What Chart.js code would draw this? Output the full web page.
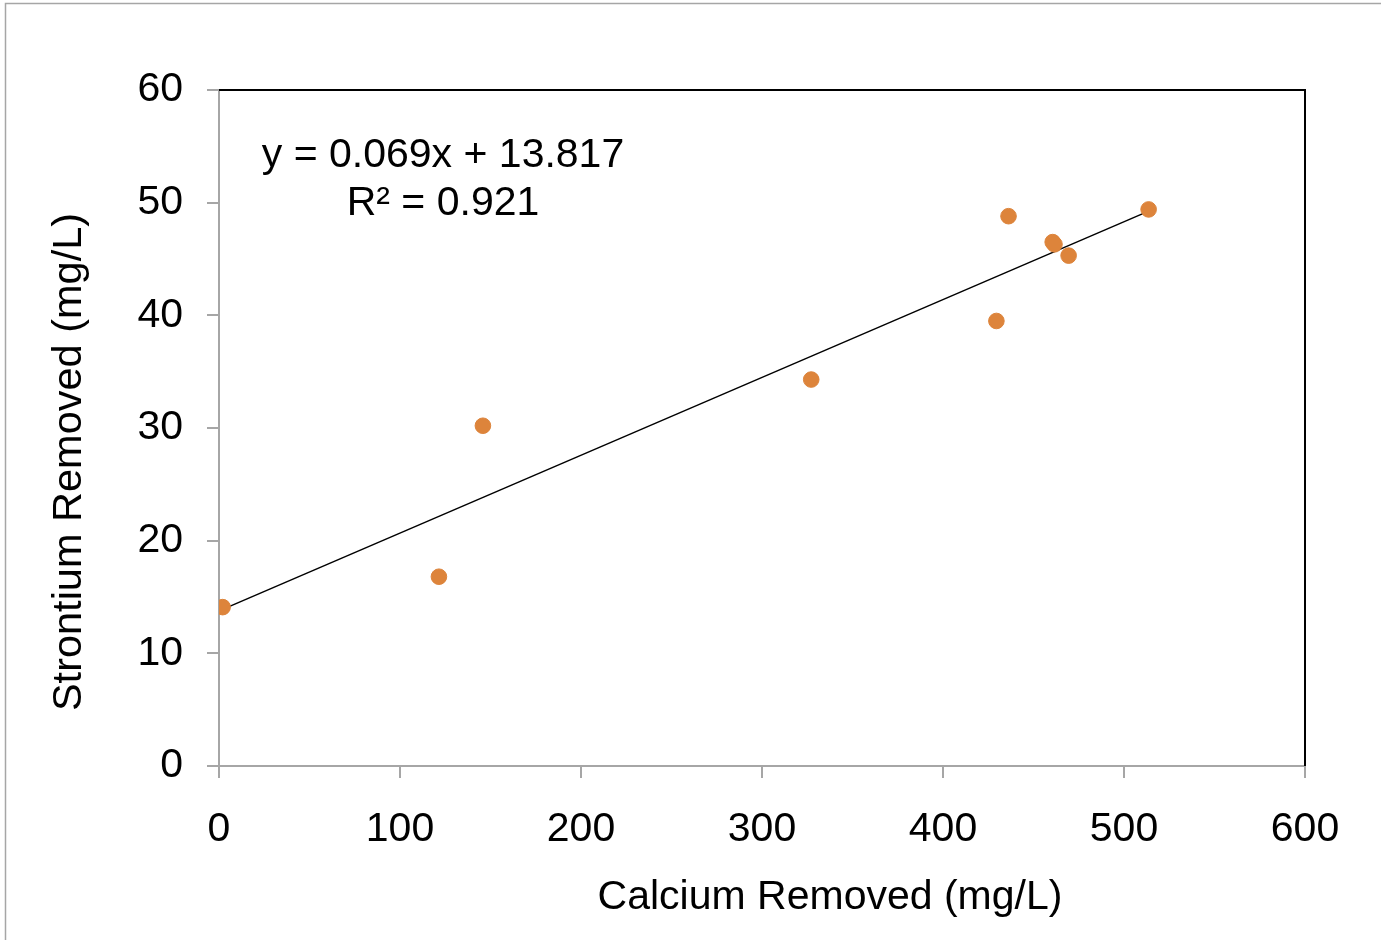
<!DOCTYPE html>
<html>
<head>
<meta charset="utf-8">
<script src="https://cdn.jsdelivr.net/npm/chart.js@4.4.0/dist/chart.umd.min.js"></script>
<style>
  html, body { margin: 0; padding: 0; background: #fff; overflow: hidden; }
  canvas { display: block; }
</style>
</head>
<body>
<canvas id="grafico" width="1381" height="940"></canvas>
<script>
// ======================
// Dados
// ======================
const calcioRemovido = [2.0, 121.5, 145.8, 327.2, 429.5, 436.2, 460.6, 461.6, 469.4, 513.6];
const estroncioRemovido = [14.1, 16.8, 30.2, 34.3, 39.5, 48.8, 46.5, 46.3, 45.3, 49.4];

// Linha de tendência (extremos)
const tendenciaX = [2.0, 513.0];
const tendenciaY = [13.9, 49.2];

const ticksX = [0, 100, 200, 300, 400, 500, 600];
const ticksY = [0, 10, 20, 30, 40, 50, 60];

const tituloX = "Calcium Removed (mg/L)";
const tituloY = "Strontium Removed (mg/L)";
const equacao = ["y = 0.069x + 13.817", "R² = 0.921"];

const FONTE = "'Liberation Sans', Arial, sans-serif";
const CINZA = "#a6a6a6";
const LARANJA = "#dd843b";

// ======================
// Plugin: moldura, textos
// ======================
const molduraTextos = {
  id: "molduraTextos",
  beforeDraw(chart) {
    const c = chart.ctx;
    c.save();
    c.fillStyle = "#fff";
    c.fillRect(0, 0, chart.width, chart.height);
    c.strokeStyle = CINZA;
    c.lineWidth = 1.5;
    c.beginPath();
    c.moveTo(5.5, chart.height);
    c.lineTo(5.5, 3.5);
    c.lineTo(chart.width, 3.5);
    c.stroke();
    c.restore();
  },
  afterDraw(chart) {
    const c = chart.ctx;
    const a = chart.chartArea;
    c.save();
    // bordas superior e direita da área do gráfico
    c.strokeStyle = "#000";
    c.lineWidth = 2;
    c.beginPath();
    c.moveTo(a.left, a.top);
    c.lineTo(a.right, a.top);
    c.lineTo(a.right, a.bottom);
    c.stroke();

    c.fillStyle = "#000";
    c.textAlign = "center";
    c.textBaseline = "middle";
    c.font = "41px " + FONTE;
    c.fillText(tituloX, 830, 898);

    c.save();
    c.translate(70, 462);
    c.rotate(-Math.PI / 2);
    c.font = "41.5px " + FONTE;
    c.fillText(tituloY, 0, 0);
    c.restore();

    c.font = "41px " + FONTE;
    c.fillText(equacao[0], 443, 156);
    c.fillText(equacao[1], 443, 203.5);
    c.restore();
  }
};

new Chart(document.getElementById("grafico").getContext("2d"), {
  type: "scatter",
  data: {
    datasets: [
      {
        label: "Pontos",
        data: calcioRemovido.map((x, i) => ({ x: x, y: estroncioRemovido[i] })),
        backgroundColor: LARANJA,
        borderColor: LARANJA,
        pointRadius: 7.8,
        pointHoverRadius: 7.8,
        order: 1
      },
      {
        label: "Tendência",
        type: "line",
        data: tendenciaX.map((x, i) => ({ x: x, y: tendenciaY[i] })),
        borderColor: "#000",
        borderWidth: 1.5,
        pointRadius: 0,
        fill: false,
        order: 2
      }
    ]
  },
  options: {
    responsive: false,
    animation: false,
    devicePixelRatio: 1,
    layout: { padding: { top: 90, right: 76, left: 0, bottom: 0 } },
    plugins: { legend: { display: false }, tooltip: { enabled: false } },
    scales: {
      x: {
        type: "linear",
        min: 0,
        max: 600,
        afterFit: (s) => { s.height = 174; },
        afterBuildTicks: (s) => { s.ticks = ticksX.map(v => ({ value: v })); },
        ticks: { color: "#000", font: { size: 41, family: FONTE }, padding: 27, maxRotation: 0 },
        grid: { drawOnChartArea: false, drawTicks: true, tickLength: 12, color: CINZA, lineWidth: 2 },
        border: { color: CINZA, width: 2 }
      },
      y: {
        type: "linear",
        min: 0,
        max: 60,
        afterFit: (s) => { s.width = 219; },
        afterBuildTicks: (s) => { s.ticks = ticksY.map(v => ({ value: v })); },
        ticks: { color: "#000", font: { size: 41, family: FONTE }, padding: 24 },
        grid: { drawOnChartArea: false, drawTicks: true, tickLength: 12, color: CINZA, lineWidth: 2 },
        border: { color: CINZA, width: 2 }
      }
    }
  },
  plugins: [molduraTextos]
});
</script>
</body>
</html>
